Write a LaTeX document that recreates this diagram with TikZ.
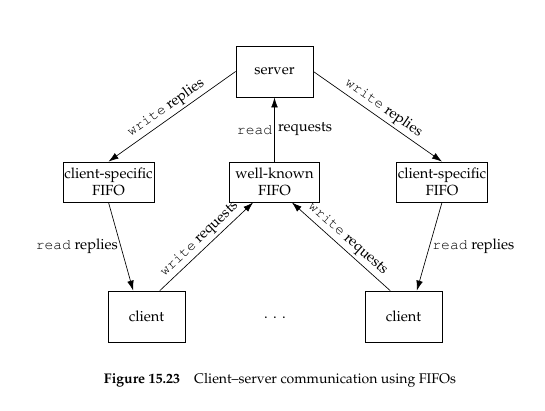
\documentclass[tikz,border=0pt]{standalone}
\usepackage[T1]{fontenc}
\usepackage{palatino}
\usepackage{courier}
\usetikzlibrary{arrows.meta}

\tikzset{
  proc/.style={draw,line width=.6pt,minimum width=57.75pt,minimum height=38.25pt,inner sep=1pt},
  fifo/.style={draw,line width=.6pt,minimum width=67.5pt,minimum height=30pt,inner sep=1pt,align=center},
  flow/.style={line width=.5pt,-{Latex[length=7.5pt,width=5pt]}},
  lbl/.style={font=\fontsize{11}{13}\selectfont,inner sep=2pt}
}

\begin{document}
\begin{tikzpicture}[x=0.75pt,y=-0.75pt,font=\fontsize{11}{13}\selectfont]
  \useasboundingbox (0,0) rectangle (545,410);
   % boxes
   \node[proc] (server) at (274.5,71.5) {server};
   \node[fifo] (lfifo) at (108.5,182) {client-specific\\FIFO};
   \node[fifo] (wkfifo) at (274.5,182) {well-known\\FIFO};
   \node[fifo] (rfifo) at (442,182) {client-specific\\FIFO};
   \node[proc] (lclient) at (146.5,316.5) {client};
   \node[proc] (rclient) at (403.5,316.5) {client};
   \node[inner sep=0pt] (dots) at (275,318) {.\hspace{4pt}.\hspace{4pt}.};
 % server side
 \draw[flow] (server.west) -- (lfifo.north)
      node[lbl,midway,sloped,above] {\texttt{write} replies};
 \draw[flow] (server.east) -- (rfifo.north)
      node[lbl,midway,sloped,above] {\texttt{write} replies};
 \draw[flow] (wkfifo.north) -- (server.south)
      node[lbl,pos=.5,anchor=east,inner sep=1.5pt] {\texttt{read}}
      node[lbl,pos=.5,anchor=west,inner sep=2.5pt] {requests};
 % client side
 \draw[flow] (lfifo.south) -- ([xshift=-10pt]lclient.north)
      node[lbl,midway,left] {\texttt{read} replies};
 \draw[flow] (rfifo.south) -- ([xshift=10pt]rclient.north)
      node[lbl,midway,right] {\texttt{read} replies};
 \draw[flow] ([xshift=10pt]lclient.north) -- ([xshift=-16pt]wkfifo.south)
      node[lbl,midway,sloped,above] {\texttt{write} requests};
 \draw[flow] ([xshift=-10pt]rclient.north) -- ([xshift=13pt]wkfifo.south)
      node[lbl,midway,sloped,above] {\texttt{write} requests};
 % caption
 \node[font=\fontsize{10.5}{12.5}\selectfont] (caption) at (280,380)
      {\textbf{Figure 15.23}\hspace{1em}Client--server communication using FIFOs};
\end{tikzpicture}
\end{document}
